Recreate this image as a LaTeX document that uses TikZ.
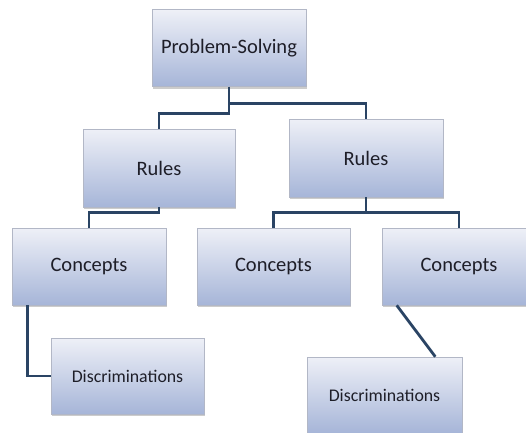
\documentclass[tikz,border=0pt]{standalone}
\usepackage{fontspec}
\setmainfont{Carlito}
\usetikzlibrary{shadows}
\definecolor{boxtop}{RGB}{238,240,247}
\definecolor{boxbot}{RGB}{166,181,216}
\definecolor{boxedge}{RGB}{178,183,198}
\definecolor{linkc}{RGB}{42,68,100}
\definecolor{txt}{RGB}{30,30,40}
\begin{document}
\begin{tikzpicture}[x=1pt,y=-1pt,
 box/.style={draw=boxedge, line width=0.6pt, top color=boxtop, bottom color=boxbot,
   minimum width=154pt, minimum height=77pt, inner sep=0pt, text=txt,
   font=\fontsize{20.5}{24}\selectfont,
   drop shadow={shadow xshift=1pt, shadow yshift=-2pt, opacity=0.4}},
 smalltext/.style={font=\fontsize{17.8}{21}\selectfont},
 linkline/.style={draw=linkc, line width=2.8pt}]
\clip (0,0) rectangle (526,432);
\fill[white] (0,0) rectangle (526,432);
\node[box] (ps) at (229,48) {Problem-Solving};
\node[box, minimum width=152pt, minimum height=78pt] (r1) at (159,168) {Rules};
\node[box, minimum height=78pt] (r2) at (366,158) {Rules};
\node[box] (c1) at (89,266.5) {Concepts};
\node[box, minimum width=153pt] (c2) at (273.5,266.5) {Concepts};
\node[box] (c3) at (459,266.5) {Concepts};
\node[box, smalltext, minimum width=153pt, minimum height=76pt] (d1) at (127.5,376) {Discriminations};
\node[box, smalltext, minimum width=155pt, minimum height=76pt] (d2) at (384.5,395) {Discriminations};
\draw[linkline] (ps.south) -- ++(0,17) -| (r2.north);
\draw[linkline] (ps.south) -- ++(0,27) -| (r1.north);
\draw[linkline] (r1.south) -- ++(0,5) -| (c1.north);
\draw[linkline] (r2.south) -- ++(0,15) -| (c2.north);
\draw[linkline] (r2.south) -- ++(0,15) -| (c3.north);
\draw[linkline] ([xshift=16pt]c1.south west) |- (d1.west);
\draw[linkline] ([xshift=15pt]c3.south west) -- ([xshift=-27pt]d2.north east);
\end{tikzpicture}
\end{document}
